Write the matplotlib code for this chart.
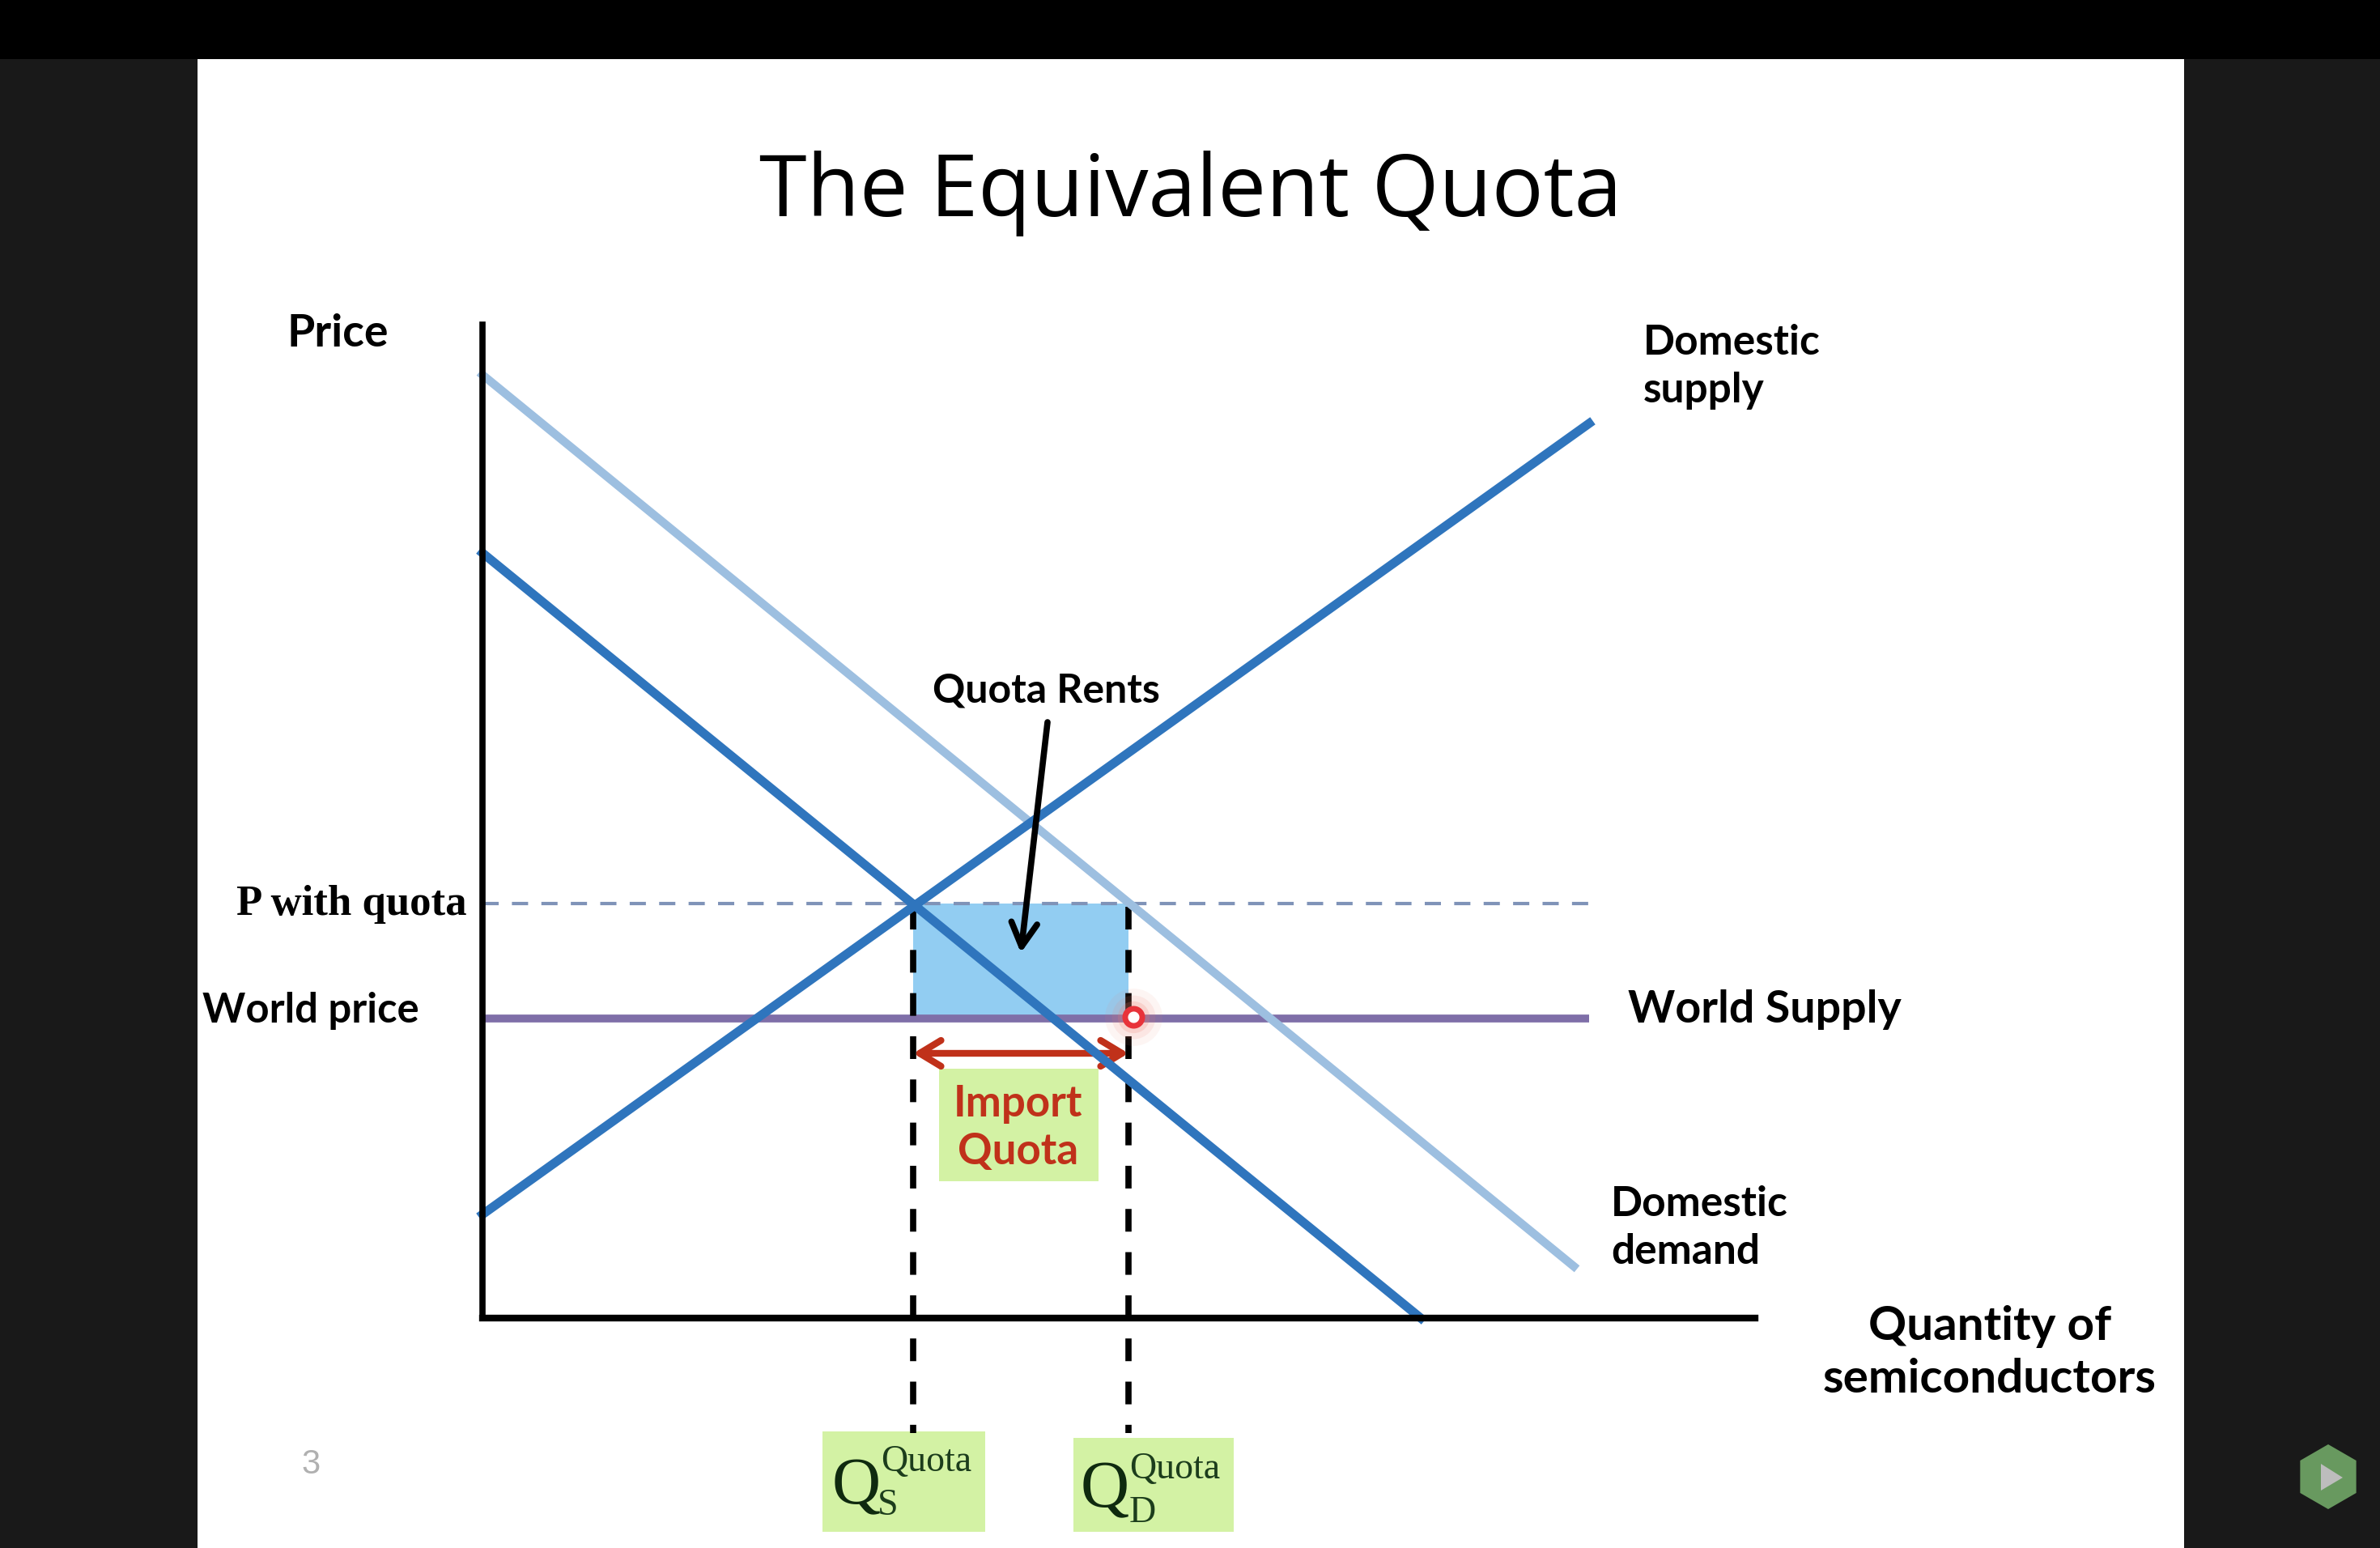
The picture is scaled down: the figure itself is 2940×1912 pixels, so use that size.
# -*- coding: utf-8 -*-

import matplotlib
matplotlib.use("Agg")
import matplotlib.pyplot as plt
from matplotlib.patches import Rectangle, Polygon, RegularPolygon

# everything is in the pixel units of the slide (y goes down)
supply_x = [596, 1963]
supply_y = [1500, 523]
demand_x = [596, 1755]
demand_y = [683, 1628]
demand_q_x = [596, 1944]
demand_q_y = [463, 1564]

axis_x = 596
axis_top = 401
axis_y = 1628
axis_right = 2168

p_quota = 1116
p_world = 1258
line_end = 1963
q_s = 1128
q_d = 1394
dash_start = 1120
dash_end = 1770

blue = "#2f75bd"
light_blue = "#9dbfe0"
purple = "#7f6fa8"
red = "#c0311a"
green = "#d3f2a4"
sans = "Lato"
serif = "Liberation Serif"

fig = plt.figure(figsize=(29.4, 19.12), dpi=100, facecolor="#191919")
ax = fig.add_axes([0, 0, 1, 1])
ax.set_xlim(0, 2940)
ax.set_ylim(1912, 0)
ax.axis("off")

# slide background and top bar
ax.add_patch(Rectangle((244, 73), 2454, 1839, fc="white", ec="none", zorder=0))
ax.add_patch(Rectangle((0, 0), 2940, 73, fc="black", ec="none", zorder=0))

# shaded boxes
ax.add_patch(Rectangle((q_s, p_quota), q_d - q_s, p_world - p_quota, fc="#92cdf2", ec="none", zorder=1))
ax.add_patch(Rectangle((1160, 1320), 197, 139, fc=green, ec="none", zorder=1))
ax.add_patch(Rectangle((1016, 1768), 201, 124, fc=green, ec="none", zorder=1))
ax.add_patch(Rectangle((1326, 1776), 198, 116, fc=green, ec="none", zorder=1))

# guide lines
ax.plot([axis_x, line_end], [p_quota, p_quota], color="#7f93b8", lw=3, dashes=(4.8, 3.93), zorder=2,
        dash_capstyle="butt")
ax.plot([axis_x, line_end], [p_world, p_world], color=purple, lw=7, zorder=3, solid_capstyle="butt")
for q in [q_s, q_d]:
    ax.plot([q, q], [dash_start, dash_end], color="black", lw=5.5, dashes=(3.67, 3.31), zorder=3,
            dash_capstyle="butt")

# red arrow under the box
ax.annotate("", xy=(q_s, 1301), xytext=(q_d, 1301), zorder=3,
            arrowprops=dict(arrowstyle="<->,head_length=1.9,head_width=1.15", color=red, lw=6,
                            shrinkA=0, shrinkB=0))

# curves
ax.plot(demand_q_x, demand_q_y, color=light_blue, lw=7.5, zorder=4)
ax.plot(supply_x, supply_y, color=blue, lw=8, zorder=5)
ax.plot(demand_x, demand_y, color=blue, lw=8, zorder=5)

# axes
ax.plot([axis_x, axis_x], [axis_top, axis_y], color="black", lw=5.5, zorder=6)
ax.plot([axis_x, axis_right], [axis_y, axis_y], color="black", lw=6, zorder=6)

# black arrow for the quota rents
ax.annotate("", xy=(1261, 1177), xytext=(1294, 892), zorder=6,
            arrowprops=dict(arrowstyle="->,head_length=2.1,head_width=1.15", color="black", lw=5.5,
                            shrinkA=0, shrinkB=0))

# red pointer dot
for s, a in [(2600, 0.08), (1500, 0.12), (800, 0.2)]:
    ax.scatter([1400], [1256], s=s, color="#f08070", alpha=a, lw=0, zorder=7)
ax.scatter([1400], [1256], s=230, facecolor="white", edgecolor="#e8333a", lw=5, zorder=8)

# texts
ax.text(1471, 239, "The Equivalent Quota", fontsize=76.6, family="Open Sans", color="black",
        ha="center", va="center")


def label(x, y, s, size=41, color="black", ha="left", weight="bold", family=sans, spacing=1.3):
    ax.text(x, y, s, fontsize=size, color=color, ha=ha, va="center", family=family,
            weight=weight, linespacing=spacing, zorder=9)


label(355, 412, "Price", size=40)
label(2030, 453, "Domestic\nsupply", size=37)
label(1152, 853, "Quota Rents", size=36)
label(2011, 1247, "World Supply", size=40)
label(250, 1249, "World price", size=36.5)
label(292, 1117, "P with quota", size=38, family=serif)
label(1990, 1517, "Domestic\ndemand", size=37)
label(2458, 1671, "Quantity of\nsemiconductors", size=42, ha="center")
label(1258, 1393, "Import\nQuota", size=38, color=red, ha="center", spacing=1.26)
label(384, 1809, "3", size=30, color="#b0b0b0", ha="center", weight="normal", family="Liberation Sans")

# Q labels on the green boxes
label(1028, 1838, "Q", size=60, color="#0f2a0f", weight="normal", family=serif)
label(1088, 1806, "Quota", size=33, color="#1c3d1c", weight="normal", family=serif)
label(1084, 1860, "S", size=33, color="#1c3d1c", weight="normal", family=serif)
label(1335, 1842, "Q", size=60, color="#0f2a0f", weight="normal", family=serif)
label(1395, 1815, "Quota", size=33, color="#1c3d1c", weight="normal", family=serif)
label(1395, 1869, "D", size=33, color="#1c3d1c", weight="normal", family=serif)

# player badge bottom right
ax.add_patch(RegularPolygon((2876, 1824), 6, radius=40, fc="#68995f", ec="none", zorder=2))
ax.add_patch(Polygon([(2867, 1808), (2894, 1825), (2867, 1841)], fc="#bdbdbd", ec="none", zorder=3))

plt.savefig("out.png", dpi=100, facecolor=fig.get_facecolor())
